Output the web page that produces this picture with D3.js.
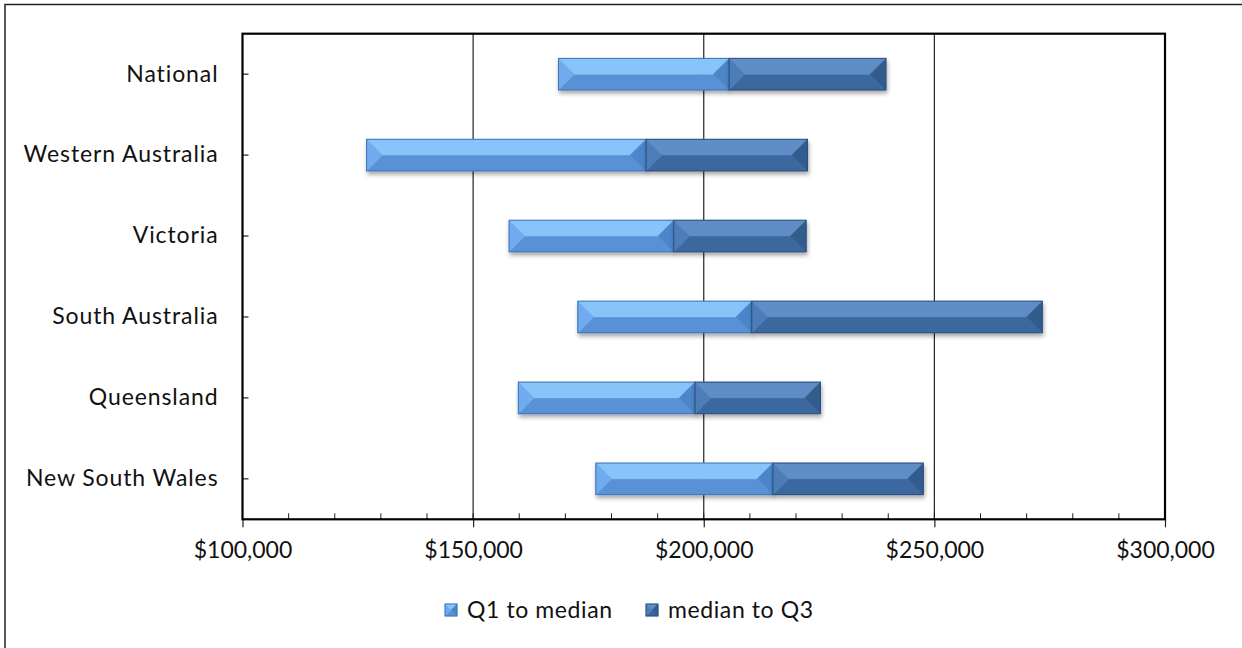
<!DOCTYPE html>
<html>
<head>
<meta charset="utf-8">
<script src="https://cdn.jsdelivr.net/npm/d3@7"></script>
<style>
  body { margin: 0; background: #fff; }
  svg { display: block; font-family: Lato, "Open Sans", sans-serif; }
</style>
</head>
<body>
<div id="chart"></div>
<script>
// chart data
var categories = ['National', 'Western Australia', 'Victoria', 'South Australia', 'Queensland', 'New South Wales'];
var q1_values = [168500, 126900, 157800, 172700, 159800, 176600];
var median_values = [205500, 187500, 193500, 210400, 198100, 215000];
var q3_values = [239500, 222500, 222200, 273400, 225300, 247600];
var series_names = ['Q1 to median', 'median to Q3'];
var x_ticks = [100000, 150000, 200000, 250000, 300000];

function draw_chart() {
    var width = 1242, height = 648;
    var plot = {left: 242.5, right: 1165, top: 33.7, bottom: 519.3};

    var svg = d3.select('#chart')
        .append('svg')
        .attr('width', width)
        .attr('height', height);

    var defs = svg.append('defs');
    defs.append('filter')
        .attr('id', 'bar_shadow')
        .attr('x', '-10%').attr('y', '-30%')
        .attr('width', '120%').attr('height', '180%')
        .append('feDropShadow')
        .attr('dx', 1).attr('dy', 3)
        .attr('stdDeviation', 2)
        .attr('flood-color', '#000')
        .attr('flood-opacity', 0.35);

    // outer frame
    svg.append('rect')
        .attr('x', 5).attr('y', 4.5)
        .attr('width', 1260).attr('height', 660)
        .attr('fill', 'none')
        .attr('stroke', '#222')
        .attr('stroke-width', 1.5);

    var x = d3.scaleLinear()
        .domain([100000, 300000])
        .range([plot.left, plot.right]);

    var y = d3.scaleBand()
        .domain(categories)
        .range([plot.top, plot.bottom])
        .paddingInner(0.61)
        .paddingOuter(0.305);

    // gridlines
    svg.append('g')
        .selectAll('line')
        .data(x_ticks.slice(1, -1))
        .enter()
        .append('line')
        .attr('x1', d => x(d)).attr('x2', d => x(d))
        .attr('y1', plot.top).attr('y2', plot.bottom)
        .attr('stroke', '#222')
        .attr('stroke-width', 1.2);

    // minor ticks inside the plot
    svg.append('g')
        .selectAll('line')
        .data(d3.range(100000, 300001, 10000))
        .enter()
        .append('line')
        .attr('x1', d => x(d)).attr('x2', d => x(d))
        .attr('y1', plot.bottom - 6).attr('y2', plot.bottom)
        .attr('stroke', '#222')
        .attr('stroke-width', 1);

    // x axis
    var x_axis = svg.append('g')
        .attr('transform', `translate(0, ${plot.bottom})`)
        .call(d3.axisBottom(x)
            .tickValues(x_ticks)
            .tickSize(8)
            .tickPadding(14)
            .tickFormat(d => '$' + d3.format(',')(d)));
    x_axis.select('.domain').remove();
    x_axis.selectAll('line').attr('stroke', '#222').attr('stroke-width', 1.2);
    x_axis.selectAll('text')
        .attr('fill', '#111')
        .style('font-size', '23px')
        .style('font-family', 'Lato, sans-serif');

    // y axis
    var y_axis = svg.append('g')
        .attr('transform', `translate(${plot.left}, 0)`)
        .call(d3.axisLeft(y).tickSize(-6).tickPadding(24));
    y_axis.select('.domain').remove();
    y_axis.selectAll('line').attr('stroke', '#222').attr('stroke-width', 1.2);
    y_axis.selectAll('text')
        .attr('fill', '#111')
        .style('font-size', '23px')
        .style('letter-spacing', '0.9px')
        .style('font-family', 'Lato, sans-serif');

    // plot border
    svg.append('rect')
        .attr('x', plot.left).attr('y', plot.top)
        .attr('width', plot.right - plot.left)
        .attr('height', plot.bottom - plot.top)
        .attr('fill', 'none')
        .attr('stroke', '#000')
        .attr('stroke-width', 2.2);

    var palettes = [
        {top: '#88c4fa', face: '#5891d5', left: '#6fabef', right: '#4b86cb', edge: '#3d74b6'},
        {top: '#5f8dc6', face: '#3b679e', left: '#4e7db9', right: '#335b8d', edge: '#2b4f7c'}
    ];

    // beveled bar made of four facets
    function bevel(g, x0, x1, y0, y1, pal) {
        var h = y1 - y0, ym = y0 + h / 2;
        var b = Math.min(h / 2, (x1 - x0) / 2);
        var bar = g.append('g').attr('filter', 'url(#bar_shadow)');
        var facets = [
            {pts: [[x0, y1], [x0 + b, ym], [x1 - b, ym], [x1, y1]], fill: pal.face},
            {pts: [[x0, y0], [x1, y0], [x1 - b, ym], [x0 + b, ym]], fill: pal.top},
            {pts: [[x0, y0], [x0 + b, ym], [x0, y1]], fill: pal.left},
            {pts: [[x1, y0], [x1, y1], [x1 - b, ym]], fill: pal.right}
        ];
        bar.selectAll('polygon')
            .data(facets)
            .enter()
            .append('polygon')
            .attr('points', d => d.pts.map(p => p.join(',')).join(' '))
            .attr('fill', d => d.fill)
            .attr('stroke', d => d.fill)
            .attr('stroke-width', 0.5);
        bar.append('rect')
            .attr('x', x0).attr('y', y0)
            .attr('width', x1 - x0).attr('height', h)
            .attr('fill', 'none')
            .attr('stroke', pal.edge)
            .attr('stroke-width', 1);
    }

    var bars = svg.append('g');
    categories.forEach(function(c, i) {
        var y0 = y(c), y1 = y(c) + y.bandwidth();
        bevel(bars, x(q1_values[i]), x(median_values[i]), y0, y1, palettes[0]);
        bevel(bars, x(median_values[i]), x(q3_values[i]), y0, y1, palettes[1]);
    });

    // legend
    var legend = svg.append('g');
    var legend_x = [445, 646];
    series_names.forEach(function(name, i) {
        bevel(legend, legend_x[i], legend_x[i] + 12, 604, 616, palettes[i]);
        legend.append('text')
            .attr('x', legend_x[i] + 22)
            .attr('y', 618)
            .attr('fill', '#111')
            .style('font-size', '23px')
            .style('letter-spacing', '0.6px')
            .text(name);
    });
    legend.selectAll('g').attr('filter', null);
}

draw_chart();
</script>
</body>
</html>
